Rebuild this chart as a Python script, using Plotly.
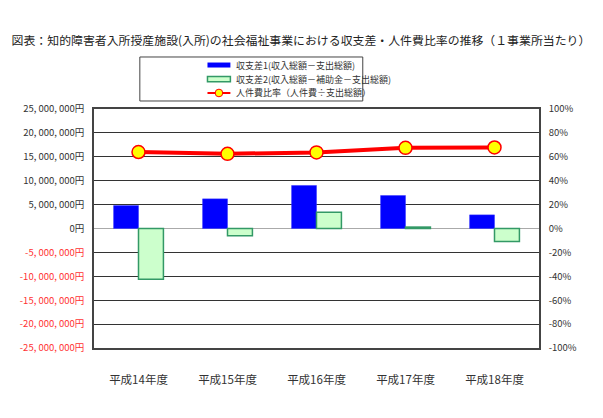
import plotly.graph_objects as go

years = ["平成14年度", "平成15年度", "平成16年度", "平成17年度", "平成18年度"]
balance1 = [4800000, 6200000, 9000000, 6900000, 2850000]
balance2 = [-10600000, -1500000, 3400000, 300000, -2700000]
labor_ratio = [64.0, 62.5, 63.7, 67.5, 67.8]

yen_ticks = [25e6, 20e6, 15e6, 10e6, 5e6, 0, -5e6, -10e6, -15e6, -20e6, -25e6]
yen_labels = ["25, 000, 000円", "20, 000, 000円", "15, 000, 000円", "10, 000, 000円",
              "5, 000, 000円", "0円", "-5, 000, 000円", "-10, 000, 000円",
              "-15, 000, 000円", "-20, 000, 000円", "-25, 000, 000円"]
pct_ticks = [100, 80, 60, 40, 20, 0, -20, -40, -60, -80, -100]
pct_labels = ["100%", "80%", "60%", "40%", "20%", "0%", "-20%", "-40%", "-60%", "-80%", "-100%"]

names = ["収支差1(収入総額－支出総額)", "収支差2(収入総額－補助金－支出総額)", "人件費比率（人件費÷支出総額）"]

FONT = "Noto Sans CJK JP"

yen_text = [lab if v >= 0 else "<span style='color:#FF3333'>%s</span>" % lab
            for v, lab in zip(yen_ticks, yen_labels)]

fig = go.Figure()
fig.add_trace(go.Bar(
    x=years, y=balance1, name=names[0],
    marker=dict(color="#0000FF", line=dict(color="#3333FF", width=0.5)),
    yaxis="y"))
fig.add_trace(go.Bar(
    x=years, y=balance2, name=names[1],
    marker=dict(color="#CCFFCC", line=dict(color="#339966", width=1.5)),
    yaxis="y"))
fig.add_trace(go.Scatter(
    x=years, y=labor_ratio, name=names[2],
    mode="lines+markers",
    line=dict(color="#FF0000", width=4),
    marker=dict(color="#FFFF00", size=13, line=dict(color="#FF0000", width=1.5)),
    yaxis="y2"))

# hand-made legend box (plotly's legend rows are too tall for this layout)
rows = [1.184, 1.1255, 1.067]
sx0, sx1, tx = 0.255, 0.3065, 0.3154
shapes = [
    dict(type="rect", xref="paper", yref="paper", x0=0.103, x1=0.604, y0=1.0335, y1=1.2176,
         line=dict(color="#444444", width=1), fillcolor="rgba(0,0,0,0)"),
    dict(type="line", xref="paper", yref="paper", x0=sx0, x1=sx1, y0=rows[0], y1=rows[0],
         line=dict(color="#0000FF", width=5)),
    dict(type="rect", xref="paper", yref="paper", x0=sx0, x1=sx1, y0=rows[1] - 0.011, y1=rows[1] + 0.011,
         line=dict(color="#339966", width=1.5), fillcolor="#CCFFCC"),
    dict(type="line", xref="paper", yref="paper", x0=sx0, x1=sx1, y0=rows[2], y1=rows[2],
         line=dict(color="#FF0000", width=2)),
    dict(type="circle", xref="paper", yref="paper", x0=0.2808 - 0.0085, x1=0.2808 + 0.0085,
         y0=rows[2] - 0.016, y1=rows[2] + 0.016,
         line=dict(color="#FF0000", width=1), fillcolor="#FFFF00"),
]
annotations = [dict(text=n, xref="paper", yref="paper", x=tx, y=r, xanchor="left", yanchor="middle",
                    showarrow=False, font=dict(family=FONT, size=9, color="#333333"))
               for n, r in zip(names, rows)]

# page body has an 8px margin, so the figure is shifted by that amount
fig.update_layout(
    width=595, height=410,
    margin=dict(l=84, r=64, t=101, b=70),
    paper_bgcolor="white", plot_bgcolor="white",
    font=dict(family=FONT, size=10, color="#333333"),
    barmode="group", bargap=0.44, bargroupgap=0,
    showlegend=False,
    title=dict(text="図表：知的障害者入所授産施設(入所)の社会福祉事業における収支差・人件費比率の推移（１事業所当たり）",
               x=0.006, xanchor="left", y=0.92, yanchor="middle",
               font=dict(family=FONT, size=11.9, color="#222222")),
    xaxis=dict(showline=True, linecolor="#444444", linewidth=1.5, mirror=True,
               showgrid=False, ticks="", tickfont=dict(size=11.5, color="#333333"),
               ticklabelstandoff=20),
    yaxis=dict(range=[-25e6, 25e6], tickvals=yen_ticks, ticktext=yen_text,
               showgrid=True, gridcolor="#333333", gridwidth=1,
               zeroline=True, zerolinecolor="#AAAAAA", zerolinewidth=1,
               showline=True, linecolor="#444444", linewidth=1.5,
               tickfont=dict(size=9.5, color="#333333"), ticks="", ticklabelstandoff=6),
    yaxis2=dict(range=[-100, 100], tickvals=pct_ticks, ticktext=pct_labels,
                overlaying="y", side="right", showgrid=False, zeroline=False,
                showline=True, linecolor="#444444", linewidth=1.5,
                tickfont=dict(size=9.5, color="#333333"), ticks="", ticklabelstandoff=6),
    shapes=shapes,
    annotations=annotations,
)

fig.write_html("out.html")
